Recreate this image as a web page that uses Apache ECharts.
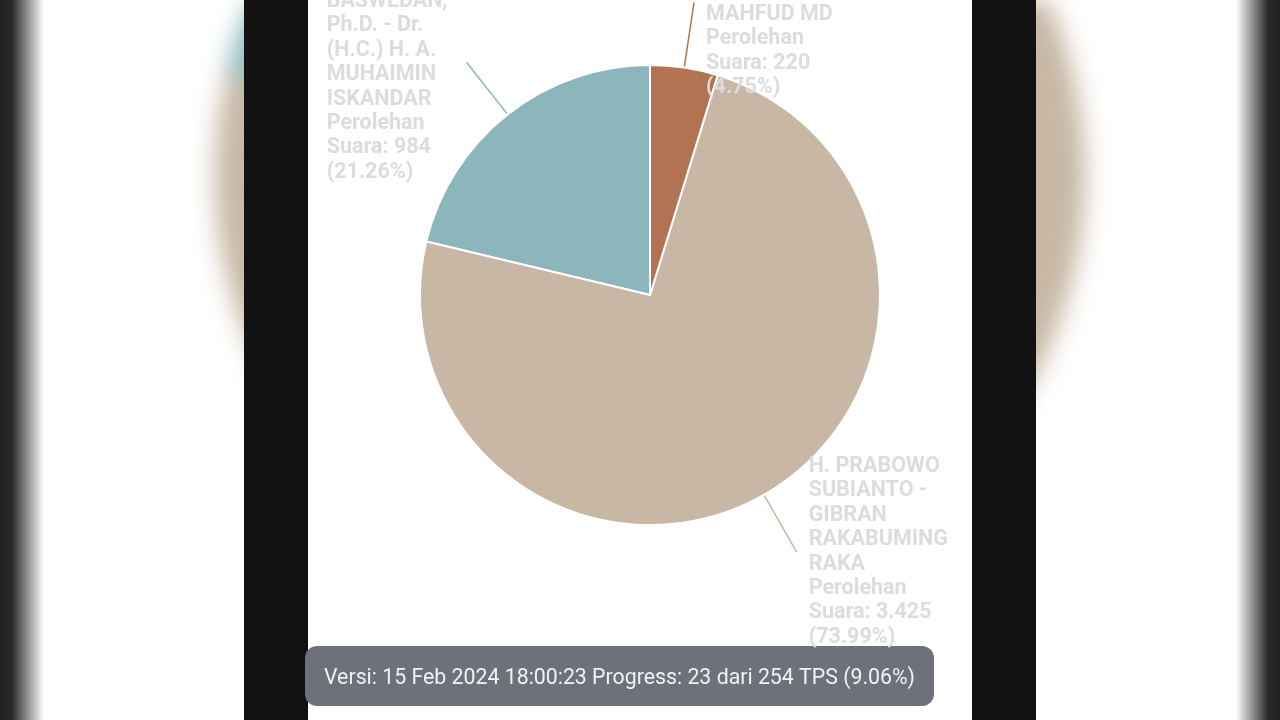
<!DOCTYPE html>
<html>
<head>
<meta charset="utf-8">
<script src="https://cdn.jsdelivr.net/npm/echarts@6/dist/echarts.min.js"></script>
<style>
  html, body { margin: 0; padding: 0; width: 1280px; height: 720px; overflow: hidden; background: #ffffff; }
  #bg { position: absolute; left: 0; top: 0; width: 1280px; height: 720px; filter: blur(12px); }
  .edgeL { position: absolute; left: 0; top: 0; width: 46px; height: 720px;
           background: linear-gradient(to right, #1f1f1f 0px, #2a2a2a 12px, rgba(255,255,255,0) 44px); }
  .edgeR { position: absolute; right: 0; top: 0; width: 46px; height: 720px;
           background: linear-gradient(to left, #1f1f1f 0px, #2a2a2a 12px, rgba(255,255,255,0) 44px); }
  .bar { position: absolute; top: 0; height: 720px; background: #121212; }
  .center { position: absolute; left: 308px; top: 0; width: 664px; height: 720px; background: #ffffff; }
  #main { position: absolute; left: 0; top: -300px; width: 1280px; height: 1320px; }
</style>
</head>
<body>
<div id="bg"></div>
<div class="edgeL"></div>
<div class="edgeR"></div>
<div class="bar" style="left:244px;width:64px;"></div>
<div class="bar" style="left:972px;width:64px;"></div>
<div class="center"></div>
<div id="main"></div>
<script>
// ---- data ----
const categories = [
  'H. ANIES RASYID BASWEDAN, Ph.D. - Dr. (H.C.) H. A. MUHAIMIN ISKANDAR',
  'H. PRABOWO SUBIANTO - GIBRAN RAKABUMING RAKA',
  'H. GANJAR PRANOWO, S.H., M.IP. - Prof. Dr. H. M. MAHFUD MD'
];
const votes = [984, 3425, 220];
const sliceColors = ['#8cb6bb', '#c7b7a4', '#b27352'];
const labelWidths = [128, 150, 150];
const footerText = 'Versi: 15 Feb 2024 18:00:23 Progress: 23 dari 254 TPS (9.06%)';

function fmtId(v) { return String(v).replace(/\B(?=(\d{3})+(?!\d))/g, '.'); }

const pieData = categories.map((c, i) => ({
  name: c, value: votes[i],
  itemStyle: { color: sliceColors[i] },
  label: { width: labelWidths[i] }
}));

// blurred background copy (video frame backdrop)
const bg = echarts.init(document.getElementById('bg'), null, { renderer: 'canvas' });
bg.setOption({
  animation: false,
  series: [{
    type: 'pie', clockwise: false, startAngle: 90,
    center: [650, 175], radius: 435,
    label: { show: false }, labelLine: { show: false },
    data: categories.map((c, i) => ({ name: c, value: votes[i], itemStyle: { color: sliceColors[i] } }))
  }]
});

// main chart (container extends 300px above the visible frame so the top labels are cut off)
const chart = echarts.init(document.getElementById('main'), null, { renderer: 'canvas' });
chart.setOption({
  animation: false,
  series: [{
    type: 'pie',
    clockwise: false,
    startAngle: 90,
    center: [650, 595],
    radius: 230,
    itemStyle: { borderColor: '#ffffff', borderWidth: 2 },
    label: {
      show: true,
      position: 'outside',
      color: '#dcdcdc',
      fontFamily: 'Roboto',
      fontWeight: 'bold',
      fontSize: 21.5,
      lineHeight: 24.4,
      overflow: 'break',
      distanceToLabelLine: 12,
      formatter: p => p.name + '\nPerolehan Suara: ' + fmtId(p.value) + ' (' + p.percent.toFixed(2) + '%)'
    },
    labelLine: {
      show: true, length: 66, length2: 0, smooth: false,
      lineStyle: { width: 1.5 }
    },
    labelLayout: function (params) {
      const r = params.labelRect;
      return { x: r.x, align: 'left', labelLinePoints: params.labelLinePoints.map(p => p.slice()) };
    },
    data: pieData
  }],
  graphic: [{
    type: 'group',
    left: 305, top: 946,
    children: [
      { type: 'rect', shape: { x: 0, y: 0, width: 629, height: 60, r: 12 }, style: { fill: '#6c717a' } },
      { type: 'text', x: 314.5, y: 32.5, style: {
          text: footerText, fill: '#f2f2f2', font: '21.3px Roboto', align: 'center', verticalAlign: 'middle' } }
    ]
  }]
});
</script>
</body>
</html>
